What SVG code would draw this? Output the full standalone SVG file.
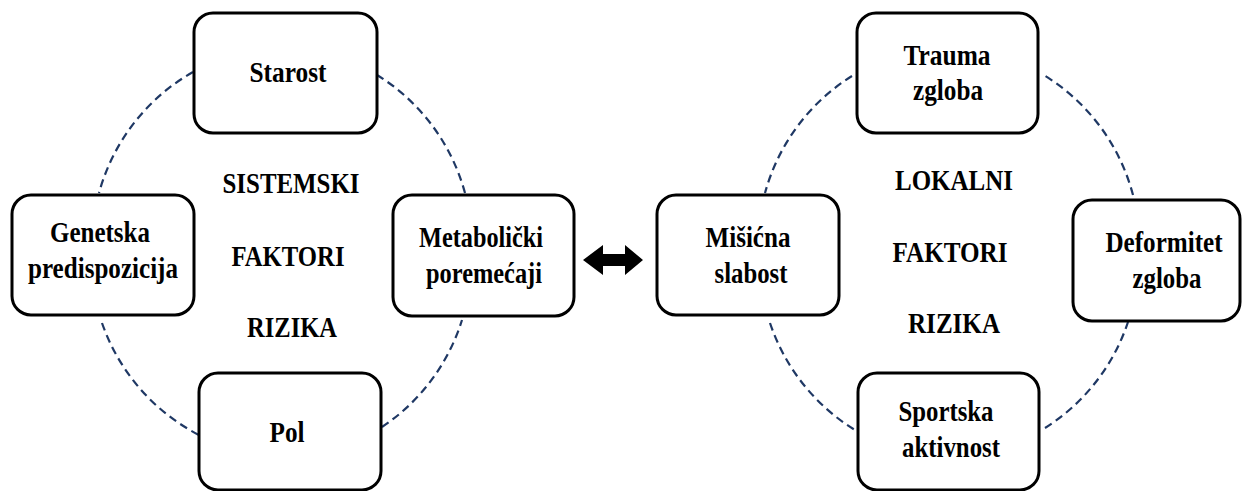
<svg xmlns="http://www.w3.org/2000/svg" width="1247" height="491" viewBox="0 0 1247 491">
<style>
.box{fill:#fff;stroke:#000;stroke-width:3}
.arc{fill:none;stroke:#1f3864;stroke-width:2.2;stroke-dasharray:8 5}
</style>
<rect width="1247" height="491" fill="#fff"/>
<g id="connectors">
<path class="arc" d="M193,72 A198,200 0 0 0 99,193"/>
<path class="arc" d="M102,323 A198,200 0 0 0 199,435"/>
<path class="arc" d="M382,427 A198,200 0 0 0 462,320"/>
<path class="arc" d="M465,193 A198,200 0 0 0 377,75"/>
<path class="arc" d="M852,76 A198,200 0 0 0 765,193"/>
<path class="arc" d="M770,323 A198,200 0 0 0 855,430"/>
<path class="arc" d="M1045,428 A198,200 0 0 0 1128,322"/>
<path class="arc" d="M1133,195 A198,200 0 0 0 1042,74"/>
<polygon points="583,260 603,245 603,254 625,254 625,245 643,260 625,275 625,266 603,266 603,275" fill="#000"/>
</g>
<g font-family="Liberation Serif, Times New Roman, serif" font-weight="bold" font-size="29" fill="#000" text-anchor="middle">
<g id="labels-left">
<text x="291" y="193" textLength="137" lengthAdjust="spacingAndGlyphs">SISTEMSKI</text>
<text x="288" y="266" textLength="113" lengthAdjust="spacingAndGlyphs">FAKTORI</text>
<text x="292" y="337" textLength="90" lengthAdjust="spacingAndGlyphs">RIZIKA</text>
</g>
<g id="labels-right">
<text x="954" y="190" textLength="118" lengthAdjust="spacingAndGlyphs">LOKALNI</text>
<text x="950" y="262" textLength="115" lengthAdjust="spacingAndGlyphs">FAKTORI</text>
<text x="954" y="333" textLength="92" lengthAdjust="spacingAndGlyphs">RIZIKA</text>
</g>
<g id="starost">
<rect class="box" x="194" y="13" width="183" height="120" rx="19"/>
<text x="288" y="82" textLength="77" lengthAdjust="spacingAndGlyphs">Starost</text>
</g>
<g id="genetska">
<rect class="box" x="12" y="195" width="182" height="120" rx="19"/>
<text x="100" y="242" textLength="100" lengthAdjust="spacingAndGlyphs">Genetska</text>
<text x="103" y="278" textLength="150" lengthAdjust="spacingAndGlyphs">predispozicija</text>
</g>
<g id="metabolicki">
<rect class="box" x="393" y="195" width="181" height="121" rx="19"/>
<text x="481" y="247" textLength="124" lengthAdjust="spacingAndGlyphs">Metabolički</text>
<text x="484" y="283" textLength="116" lengthAdjust="spacingAndGlyphs">poremećaji</text>
</g>
<g id="pol">
<rect class="box" x="199" y="373" width="182" height="117" rx="19"/>
<text x="287" y="442" textLength="35" lengthAdjust="spacingAndGlyphs">Pol</text>
</g>
<g id="trauma">
<rect class="box" x="857" y="13" width="181" height="120" rx="19"/>
<text x="947" y="65" textLength="87" lengthAdjust="spacingAndGlyphs">Trauma</text>
<text x="948" y="100" textLength="70" lengthAdjust="spacingAndGlyphs">zgloba</text>
</g>
<g id="misicna">
<rect class="box" x="657" y="195" width="182" height="120" rx="19"/>
<text x="748" y="247" textLength="85" lengthAdjust="spacingAndGlyphs">Mišićna</text>
<text x="751" y="283" textLength="73" lengthAdjust="spacingAndGlyphs">slabost</text>
</g>
<g id="deformitet">
<rect class="box" x="1073" y="200" width="167" height="121" rx="19"/>
<text x="1164" y="252" textLength="117" lengthAdjust="spacingAndGlyphs">Deformitet</text>
<text x="1167" y="288" textLength="69" lengthAdjust="spacingAndGlyphs">zgloba</text>
</g>
<g id="sportska">
<rect class="box" x="858" y="373" width="181" height="117" rx="19"/>
<text x="946" y="421" textLength="95" lengthAdjust="spacingAndGlyphs">Sportska</text>
<text x="951" y="457" textLength="98" lengthAdjust="spacingAndGlyphs">aktivnost</text>
</g>
</g>
</svg>
